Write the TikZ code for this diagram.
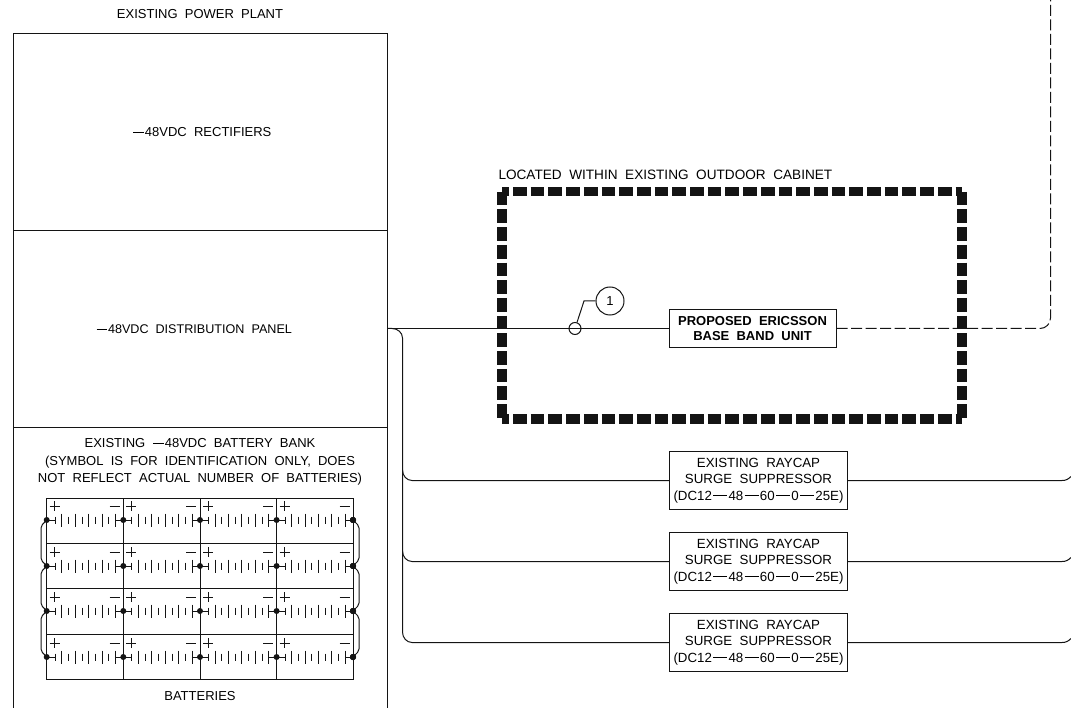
\documentclass[tikz,border=0pt]{standalone}
\usepackage{fontspec}
\setmainfont{Liberation Sans}
\usetikzlibrary{positioning}
\definecolor{line_black}{RGB}{20,20,20}

% one battery of the bank: dot, cells, plus and minus
\newcommand{\batterycell}[2]{%
  \fill (#1,#2) circle (3);
  \draw[line width=0.6pt] (#1,#2) -- ++(8.3,0);
  \foreach \k in {0,2,4,6,8} {
    \draw[line width=0.6pt] ({#1+8.3+\k*6.7},{#2-3.5}) -- ++(0,7);
    \draw[line width=0.8pt] ({#1+15+\k*6.7},{#2-6.5}) -- ++(0,13);
  }
  \draw[line width=0.8pt] ({#1+68.6},#2) -- ({#1+76.6},#2);
  \draw[line width=0.7pt] ({#1+3},{#2-14}) -- ++(10,0) ({#1+8},{#2-19}) -- ++(0,10);
  \draw[line width=0.7pt] ({#1+63},{#2-14}) -- ++(10,0);
}
\newcommand{\minusbar}{\hspace{0.05em}\rule[0.32em]{0.85em}{0.6pt}\hspace{0.05em}}
\newcommand{\codebar}{\hspace{0.1em}\rule[0.32em]{1.05em}{0.6pt}\hspace{0.1em}}
\newcommand{\raycaptext}{EXISTING\ \ RAYCAP\\SURGE\ \ SUPPRESSOR\\(DC12\codebar48\codebar60\codebar0\codebar25E)}

\begin{document}
\begin{tikzpicture}[x=1pt,y=-1pt,line_black,line width=1pt]
    \tikzstyle{label}=[font=\fontsize{13}{17.5}\selectfont, align=center, text=black, inner sep=0pt]
    \tikzstyle{box}=[draw, font=\fontsize{13.3}{16.5}\selectfont, align=center, text=black, inner sep=0pt, fill=white]
    \tikzstyle{cabinet}=[line width=9.6pt, dash pattern=on 13.7pt off 4pt]
    \useasboundingbox (0,0) rectangle (1071,708);

    \node[label] (title) at (200,14) {EXISTING\ \ POWER\ \ PLANT};
    \draw (13.5,720) -- (13.5,33.5) -- (387.5,33.5) -- (387.5,720);
    \draw (13.5,230.5) -- (387.5,230.5) (13.5,427.5) -- (387.5,427.5);
    \node[label] (rect) at (202,132) {\minusbar48VDC\ \ RECTIFIERS};
    \node[label, font=\fontsize{12.6}{15}\selectfont] (panel) at (194,329) {\minusbar48VDC\ \ DISTRIBUTION\ \ PANEL};
    \node[label] (bank) at (200,462) {EXISTING\ \ \minusbar48VDC\ \ BATTERY\ \ BANK\\(SYMBOL\ \ IS\ \ FOR\ \ IDENTIFICATION\ \ ONLY,\ \ DOES\\NOT\ \ REFLECT\ \ ACTUAL\ \ NUMBER\ \ OF\ \ BATTERIES)};
    \node[label] (batt) at (200,696) {BATTERIES};

    % battery bank
    \draw (46.5,498.5) rectangle (353.5,679.5);
    \foreach \y in {543.5,588.5,634.5} \draw (46.5,\y) -- (353.5,\y);
    \foreach \x in {123.5,200.5,276.5} \draw (\x,498.5) -- (\x,679.5);
    \foreach \y in {520,566,611,657} {
      \foreach \x in {46.7,123.3,200,276.6} \batterycell{\x}{\y}
      \fill (353,\y) circle (3);
    }
    \foreach \y/\z in {520/566,566/611,611/657} {
      \draw[rounded corners=2pt] (46.7,\y) -- (41,\y+6) -- (41,\z-6) -- (46.7,\z);
      \draw[rounded corners=2pt] (353,\y) -- (359,\y+6) -- (359,\z-6) -- (353,\z);
    }

    % cabinet
    \foreach \x in {502,962} \draw[cabinet] (\x,191.8) -- (\x,419);
    \foreach \y in {191.5,419} \draw[cabinet, dash phase=6.7pt] (502,\y) -- (962,\y);
    \node[label, anchor=west, font=\fontsize{13.6}{15}\selectfont] (cab) at (498,175) {LOCATED\ \ WITHIN\ \ EXISTING\ \ OUTDOOR\ \ CABINET};

    \node[box, minimum width=167pt, minimum height=38pt, font=\fontsize{13}{15}\selectfont\bfseries] (bbu) at (752.5,328.5) {PROPOSED\ \ ERICSSON\\BASE\ \ BAND\ \ UNIT};
    \node[box, minimum width=178pt, minimum height=58pt] (ray1) at (758.5,480.5) {\raycaptext};
    \node[box, minimum width=178pt, minimum height=58pt] (ray2) at (758.5,561.5) {\raycaptext};
    \node[box, minimum width=178pt, minimum height=58pt] (ray3) at (758.5,642.5) {\raycaptext};

    \coordinate (feed) at (387.5,328.5);
    \draw (feed) -- (bbu.west);
    \draw (feed) -- (392,328.5) to[out=0,in=90] (402.5,338) -- (402.5,632) to[out=-90,in=180] (412,642.5) -- (ray3.west);
    \draw (402.5,470) to[out=-90,in=180] (412,480.5) -- (ray1.west);
    \draw (402.5,551) to[out=-90,in=180] (412,561.5) -- (ray2.west);
    \foreach \n/\y in {ray1/480.5,ray2/561.5,ray3/642.5}
      \draw (\n.east) -- (1062,\y) to[out=0,in=-135] (1071,\y-4);
    \draw[dash pattern=on 11pt off 3.5pt] (bbu.east) -- (1040,328.5) to[out=0,in=-90] (1050.5,318) -- (1050.5,0);

    \node[circle, draw, minimum size=12pt, inner sep=0pt] (tag) at (575,328.5) {};
    \node[circle, draw, minimum size=28pt, inner sep=0pt, font=\fontsize{13}{15}\selectfont, text=black] (one) at (610,301) {1};
    \draw (tag) -- (584,301) -- (one);
  \end{tikzpicture}
\end{document}
